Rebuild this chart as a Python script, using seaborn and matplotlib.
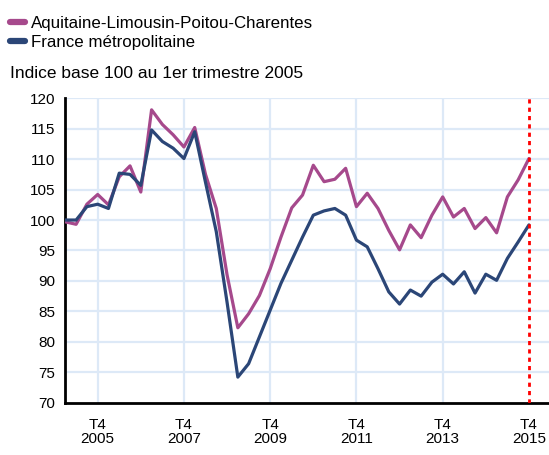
import matplotlib
matplotlib.use("Agg")
import matplotlib.pyplot as plt
import numpy as np
import pandas as pd
import seaborn as sns

# Quarterly index, base 100 = 2005 Q1 (2005T1 .. 2015T4)
quarters = [f"{y}T{q}" for y in range(2005, 2016) for q in range(1, 5)]
aquitaine = [
    99.7, 99.3, 102.6, 104.2, 102.5, 107.1, 108.9, 104.6,
    118.1, 115.7, 114.0, 112.0, 115.2, 107.5, 101.9, 91.0,
    82.3, 84.6, 87.6, 92.0, 97.2, 102.0, 104.1, 109.0,
    106.3, 106.7, 108.5, 102.2, 104.4, 101.9, 98.3, 95.1,
    99.2, 97.1, 100.8, 103.8, 100.5, 101.9, 98.6, 100.4,
    97.9, 103.8, 106.6, 110.1,
]
france = [
    100.0, 100.0, 102.2, 102.6, 101.9, 107.7, 107.5, 105.7,
    114.8, 112.9, 111.8, 110.1, 114.5, 106.2, 98.1, 86.5,
    74.2, 76.4, 80.8, 85.2, 89.6, 93.4, 97.2, 100.8,
    101.5, 101.9, 100.8, 96.7, 95.6, 92.0, 88.2, 86.2,
    88.5, 87.5, 89.8, 91.1, 89.5, 91.5, 88.0, 91.1,
    90.1, 93.7, 96.4, 99.2,
]
series_names = ["Aquitaine-Limousin-Poitou-Charentes", "France métropolitaine"]
tick_labels = ["T4\n2005", "T4\n2007", "T4\n2009", "T4\n2011", "T4\n2013", "T4\n2015"]
y_ticks = [70, 75, 80, 85, 90, 95, 100, 105, 110, 115, 120]

PURPLE = "#a6498c"
NAVY = "#2b4677"
GRID = "#dde9f7"

df = pd.DataFrame({
    "idx": list(range(len(quarters))) * 2,
    "value": aquitaine + france,
    "serie": [series_names[0]] * len(aquitaine) + [series_names[1]] * len(france),
})

sns.set_style("white")
plt.rcParams["font.family"] = ["Liberation Sans", "DejaVu Sans"]
plt.rcParams["text.color"] = "black"
plt.rcParams["xtick.color"] = "black"
plt.rcParams["ytick.color"] = "black"

fig = plt.figure(figsize=(5.49, 4.55), dpi=100)
ax = fig.add_axes([0.119, 0.115, 0.881, 0.669])

sns.lineplot(
    data=df, x="idx", y="value", hue="serie",
    palette=[PURPLE, NAVY], linewidth=2.3, ax=ax, legend=False, zorder=3,
)

tick_pos = [quarters.index(t.replace("\n", "")[2:] + "T4") for t in tick_labels]
ax.set_xlim(0, 44.86)
ax.set_ylim(70, 120)
ax.set_yticks(y_ticks)
ax.set_xticks(tick_pos)
ax.set_xticklabels(tick_labels, fontsize=11, linespacing=1.0)
ax.set_yticklabels([str(v) for v in y_ticks], fontsize=11)
ax.tick_params(axis="y", length=0, pad=7, labelcolor="black")
ax.tick_params(axis="x", length=0, pad=11, labelcolor="black")
ax.set_xlabel("")
ax.set_ylabel("")

for v in y_ticks[1:]:
    ax.axhline(v, color=GRID, linewidth=1.6, zorder=1)
for p in tick_pos[:-1]:
    ax.axvline(p, color=GRID, linewidth=1.6, zorder=1)
ax.axvline(tick_pos[-1], color="#ff0000", linewidth=2, linestyle=(0, (1.5, 1.5)), zorder=4)

for s in ["top", "right"]:
    ax.spines[s].set_visible(False)
for s in ["left", "bottom"]:
    ax.spines[s].set_color("black")
    ax.spines[s].set_linewidth(2)

handles = [plt.Line2D([], [], color=c, linewidth=4.5) for c in [PURPLE, NAVY]]
fig.legend(
    handles, series_names, loc="upper left", bbox_to_anchor=(-0.003, 0.99),
    frameon=False, fontsize=12.2, handlelength=0.85, handletextpad=0.4,
    labelspacing=0.2, borderaxespad=0.3, labelcolor="black",
)
fig.text(0.018, 1 - 73 / 455, "Indice base 100 au 1er trimestre 2005",
         fontsize=12.5, va="center", ha="left", color="black")

fig.savefig("out.png", dpi=100)
